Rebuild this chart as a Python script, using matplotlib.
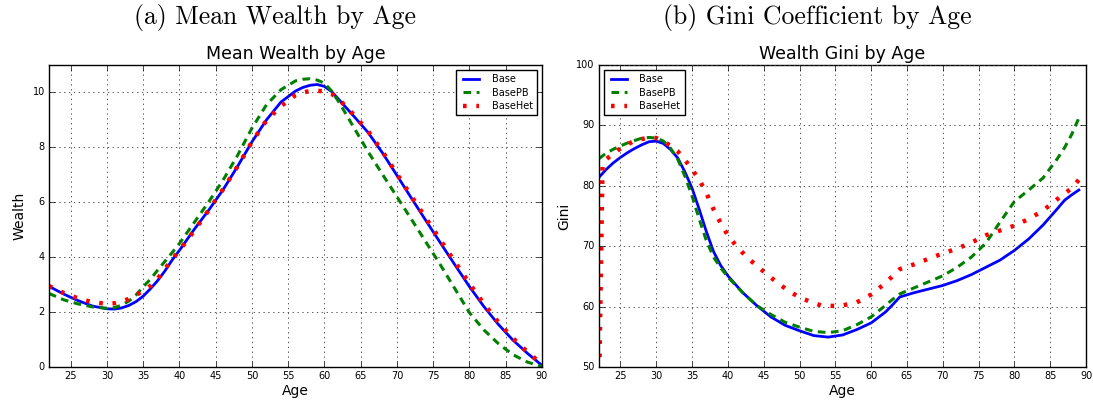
import matplotlib
matplotlib.use("Agg")
import matplotlib.pyplot as plt

# ------------------------------------------------------------------
# data
# ------------------------------------------------------------------
wealth_ages = [22, 24, 26, 28, 30, 31, 32, 33, 34, 35, 36, 37, 38, 39, 40,
               42, 44, 46, 48, 50, 52, 54, 56, 57, 58, 59, 60, 61, 62, 64,
               66, 68, 70, 72, 74, 76, 78, 80, 82, 84, 86, 88, 90]
wealth_base = [2.94, 2.66, 2.42, 2.22, 2.12, 2.11, 2.15, 2.24, 2.38, 2.58,
               2.85, 3.15, 3.50, 3.90, 4.25, 5.00, 5.70, 6.45, 7.30, 8.20,
               9.00, 9.65, 10.05, 10.18, 10.26, 10.29, 10.22, 10.03, 9.74,
               9.15, 8.55, 7.80, 6.98, 6.15, 5.33, 4.52, 3.72, 2.93, 2.20,
               1.55, 0.98, 0.50, 0.06]
wealth_pb = [2.68, 2.45, 2.30, 2.19, 2.14, 2.16, 2.25, 2.40, 2.62, 2.92,
             3.20, 3.53, 3.85, 4.17, 4.50, 5.25, 6.00, 6.80, 7.70, 8.70,
             9.55, 10.10, 10.42, 10.48, 10.50, 10.45, 10.34, 10.05, 9.65,
             8.75, 7.85, 7.02, 6.20, 5.38, 4.55, 3.72, 2.85, 1.98, 1.35,
             0.85, 0.45, 0.18, 0.02]
wealth_het = [2.95, 2.70, 2.50, 2.36, 2.30, 2.32, 2.38, 2.48, 2.62, 2.78,
              2.95, 3.22, 3.57, 3.93, 4.25, 4.95, 5.70, 6.47, 7.30, 8.20,
              8.98, 9.50, 9.90, 10.00, 10.05, 10.06, 10.04, 9.95, 9.75,
              9.20, 8.60, 7.85, 7.03, 6.22, 5.42, 4.62, 3.83, 3.04, 2.30,
              1.63, 1.05, 0.55, 0.10]

gini_ages = [22, 23, 24, 25, 26, 27, 28, 29, 30, 31, 32, 33, 34, 35, 36, 37,
             38, 39, 40, 42, 44, 46, 48, 50, 52, 54, 56, 58, 60, 62, 63, 64,
             66, 68, 70, 72, 74, 76, 78, 80, 82, 84, 86, 87, 88, 89]
gini_base = [81.4, 82.7, 83.8, 84.7, 85.5, 86.2, 86.8, 87.3, 87.4, 87.0,
             86.0, 84.6, 82.3, 79.6, 76.1, 72.4, 69.1, 66.8, 65.1, 62.4,
             60.2, 58.3, 56.9, 56.0, 55.2, 54.95, 55.3, 56.2, 57.3, 59.1,
             60.3, 61.6, 62.3, 62.9, 63.5, 64.3, 65.3, 66.5, 67.7, 69.3,
             71.2, 73.5, 76.2, 77.6, 78.5, 79.3]
gini_pb = [84.5, 85.4, 86.05, 86.6, 87.1, 87.5, 87.9, 88.0, 87.9, 87.4,
           86.2, 84.4, 81.6, 78.3, 74.5, 70.9, 68.2, 66.4, 64.9, 62.4,
           60.2, 58.7, 57.4, 56.6, 55.9, 55.7, 56.0, 57.0, 58.3, 60.2,
           61.2, 62.1, 63.1, 64.1, 65.1, 66.5, 68.2, 70.5, 74.0, 77.4,
           79.3, 81.3, 84.5, 86.3, 88.5, 91.2]

het_ages = [22, 22.5, 23, 25, 27, 29, 30, 31, 32, 33, 34, 35, 36, 37, 38,
            39, 40, 41, 42, 43, 44, 46, 48, 50, 52, 53, 55, 56, 58, 60, 62,
            64, 66, 68, 70, 72, 74, 76, 78, 80, 82, 84, 86, 88, 89]
gini_het = [45.0, 83.5, 84.4, 86.2, 87.5, 88.0, 87.9, 87.4, 86.6, 85.7,
            84.3, 82.7, 81.0, 78.8, 76.1, 73.8, 71.8, 70.3, 69.0, 67.8,
            66.8, 64.8, 63.0, 61.5, 60.6, 60.2, 60.1, 60.2, 60.7, 62.0,
            63.9, 66.2, 67.0, 67.9, 68.8, 69.6, 70.6, 71.8, 72.6, 73.4,
            74.5, 75.9, 77.8, 79.6, 81.0]

age_ticks = list(range(25, 95, 5))

# ------------------------------------------------------------------
# styl
# ------------------------------------------------------------------
plt.style.use("classic")
plt.rcParams["figure.facecolor"] = "white"
plt.rcParams["savefig.facecolor"] = "white"
plt.rcParams["font.family"] = "DejaVu Sans"

fig = plt.figure(figsize=(10.93, 4.05), dpi=100)
ax1 = fig.add_axes([0.0448, 0.0938, 0.451, 0.7457])
ax2 = fig.add_axes([0.548, 0.0938, 0.4456, 0.7457])

het_style = dict(color="red", linestyle=(0, (2.6, 7.0)), linewidth=3.2,
                 dash_capstyle="butt", label="BaseHet")
pb_style = dict(color="green", linestyle=(0, (5.5, 4.0)), linewidth=2.2,
                label="BasePB")
base_style = dict(color="blue", linestyle="-", linewidth=2.0, label="Base")


def style_axes(ax, title, ylabel):
    ax.set_title(title, fontsize=12.5, pad=4)
    ax.set_xlabel("Age", fontsize=10, labelpad=2)
    ax.set_ylabel(ylabel, fontsize=10, labelpad=4)
    ax.set_xlim(22, 90)
    ax.set_xticks(age_ticks)
    ax.tick_params(labelsize=7, pad=3)
    ax.grid(True, color="0.25", linestyle=(0, (1, 2.5)), linewidth=0.6)
    for sp in ax.spines.values():
        sp.set_linewidth(1.0)


# (a) mean wealth
ax1.plot(wealth_ages, wealth_base, **base_style)
ax1.plot(wealth_ages, wealth_pb, **pb_style)
ax1.plot(wealth_ages, wealth_het, **het_style)
style_axes(ax1, "Mean Wealth by Age", "Wealth")
ax1.set_ylim(0, 11)
ax1.set_yticks([0, 2, 4, 6, 8, 10])
ax1.legend(loc="upper right", fontsize=7, handlelength=2.2,
           handletextpad=1.0, borderpad=0.45, labelspacing=0.35,
           fancybox=False, framealpha=1.0, edgecolor="black")

# (b) gini
ax2.plot(gini_ages, gini_base, **base_style)
ax2.plot(gini_ages, gini_pb, **pb_style)
ax2.plot(het_ages, gini_het, **het_style)
style_axes(ax2, "Wealth Gini by Age", "Gini")
ax2.set_ylim(50, 100)
ax2.set_yticks([50, 60, 70, 80, 90, 100])
ax2.legend(loc="upper left", fontsize=7, handlelength=2.2,
           handletextpad=1.0, borderpad=0.45, labelspacing=0.35,
           fancybox=False, framealpha=1.0, edgecolor="black")

# podpisy pod-obrazkov
fig.text(0.2516, 0.958, "(a) Mean Wealth by Age", fontsize=18.5,
         family="cmr10", ha="center", va="center")
fig.text(0.748, 0.958, "(b) Gini Coefficient by Age", fontsize=18.5,
         family="cmr10", ha="center", va="center")

fig.savefig("out.png", dpi=100)
